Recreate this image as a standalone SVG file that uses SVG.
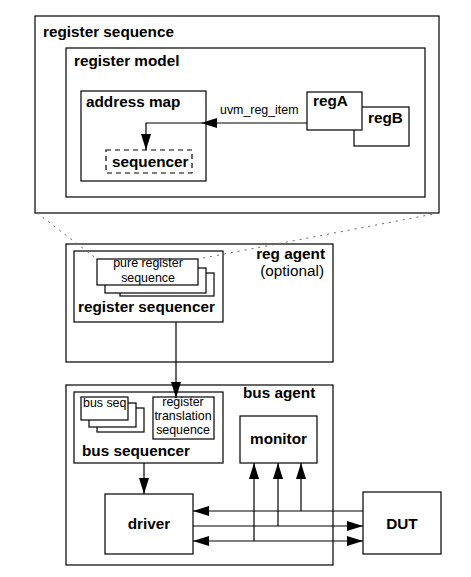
<svg xmlns="http://www.w3.org/2000/svg" width="471" height="577" viewBox="0 0 471 577">
<defs>
<style>
.box{fill:#fff;stroke:#000;stroke-width:1.2}
.dash{fill:#fff;stroke:#000;stroke-width:1.2;stroke-dasharray:5,4}
.b{font-family:"Liberation Sans",Arial,sans-serif;font-weight:bold;font-size:15.3px;fill:#000}
.r{font-family:"Liberation Sans",Arial,sans-serif;font-size:12.4px;fill:#000}
.ro{font-family:"Liberation Sans",Arial,sans-serif;font-size:15.3px;fill:#000}
.c{text-anchor:middle}
.e{text-anchor:end}
.ln{fill:none;stroke:#000;stroke-width:1.2}
.dl{fill:none;stroke:#666;stroke-width:1;stroke-dasharray:2,5}
</style>
<marker id="ah" markerUnits="userSpaceOnUse" markerWidth="17" markerHeight="11" refX="16" refY="5" orient="auto-start-reverse">
<path d="M0,0 L16,5 L0,10 Z" fill="#000"/>
</marker>
</defs>
<rect width="471" height="577" fill="#fff"/>

<g id="register-sequence">
<rect class="box" x="35" y="16" width="404" height="197"/>
<text class="b" x="43" y="37">register sequence</text>
</g>
<g id="register-model">
<rect class="box" x="66" y="48" width="359" height="149"/>
<text class="b" x="74" y="66">register model</text>
</g>
<g id="address-map">
<rect class="box" x="81" y="91" width="125" height="90"/>
<text class="b" x="86" y="107">address map</text>
</g>
<g id="sequencer">
<rect class="dash" x="106" y="150" width="86" height="23"/>
<text class="b" x="112" y="167">sequencer</text>
</g>
<g id="regB">
<rect class="box" x="354" y="107" width="55" height="39"/>
<text class="b" x="368" y="123">regB</text>
</g>
<g id="regA">
<rect class="box" x="307" y="92" width="55" height="38"/>
<text class="b" x="313" y="106">regA</text>
</g>

<g id="reg-agent">
<rect class="box" x="66" y="244" width="267" height="118"/>
<text class="b e" x="325" y="259">reg agent</text>
<text class="ro e" x="324" y="276">(optional)</text>
</g>
<g id="register-sequencer">
<rect class="box" x="74" y="251" width="149" height="71"/>
<text class="b" x="78" y="312">register sequencer</text>
</g>
<g id="pure-register-sequence">
<rect class="box" x="120" y="273" width="94" height="23"/>
<rect class="box" x="105" y="268" width="101" height="25"/>
<rect class="box" x="97" y="259" width="101" height="26"/>
<text class="r c" x="148" y="267">pure register</text>
<text class="r c" x="148" y="282">sequence</text>
</g>

<g id="bus-agent">
<rect class="box" x="66" y="385" width="267" height="180"/>
<text class="b" x="243" y="398">bus agent</text>
</g>
<g id="bus-sequencer">
<rect class="box" x="74" y="392" width="149" height="71"/>
<text class="b" x="82" y="456">bus sequencer</text>
</g>
<g id="bus-seq">
<rect class="box" x="97" y="408" width="47" height="24"/>
<rect class="box" x="89" y="403" width="47" height="24"/>
<rect class="box" x="81" y="397" width="47" height="23"/>
<text class="r" x="83" y="407">bus seq</text>
</g>
<g id="register-translation-sequence">
<rect class="box" x="153" y="397" width="61" height="42"/>
<text class="r c" x="183" y="406">register</text>
<text class="r c" x="183" y="420">translation</text>
<text class="r c" x="183" y="434">sequence</text>
</g>
<g id="monitor">
<rect class="box" x="240" y="416" width="77" height="47"/>
<text class="b c" x="278.5" y="444">monitor</text>
</g>
<g id="driver">
<rect class="box" x="105" y="494" width="88" height="60"/>
<text class="b c" x="149" y="529">driver</text>
</g>
<g id="DUT">
<rect class="box" x="363" y="492" width="78" height="62"/>
<text class="b c" x="402" y="529">DUT</text>
</g>

<g id="connectors">
<line class="dl" x1="37" y1="213" x2="97" y2="259"/>
<line class="dl" x1="439" y1="213" x2="198" y2="259"/>
<path class="ln" d="M307,123 H201" marker-end="url(#ah)"/>
<path class="ln" d="M201,123 H146 V150" marker-end="url(#ah)"/>
<text class="r" x="220" y="114">uvm_reg_item</text>
<path class="ln" d="M176,322 V398" marker-end="url(#ah)"/>
<path class="ln" d="M144,463 V494" marker-end="url(#ah)"/>
<path class="ln" d="M363,511 H193" marker-end="url(#ah)"/>
<path class="ln" d="M193,526 H363" marker-end="url(#ah)"/>
<path class="ln" d="M193,541 H363" marker-start="url(#ah)" marker-end="url(#ah)"/>
<path class="ln" d="M254,541 V463" marker-end="url(#ah)"/>
<path class="ln" d="M278,526 V463" marker-end="url(#ah)"/>
<path class="ln" d="M301,511 V463" marker-end="url(#ah)"/>
</g>
</svg>
